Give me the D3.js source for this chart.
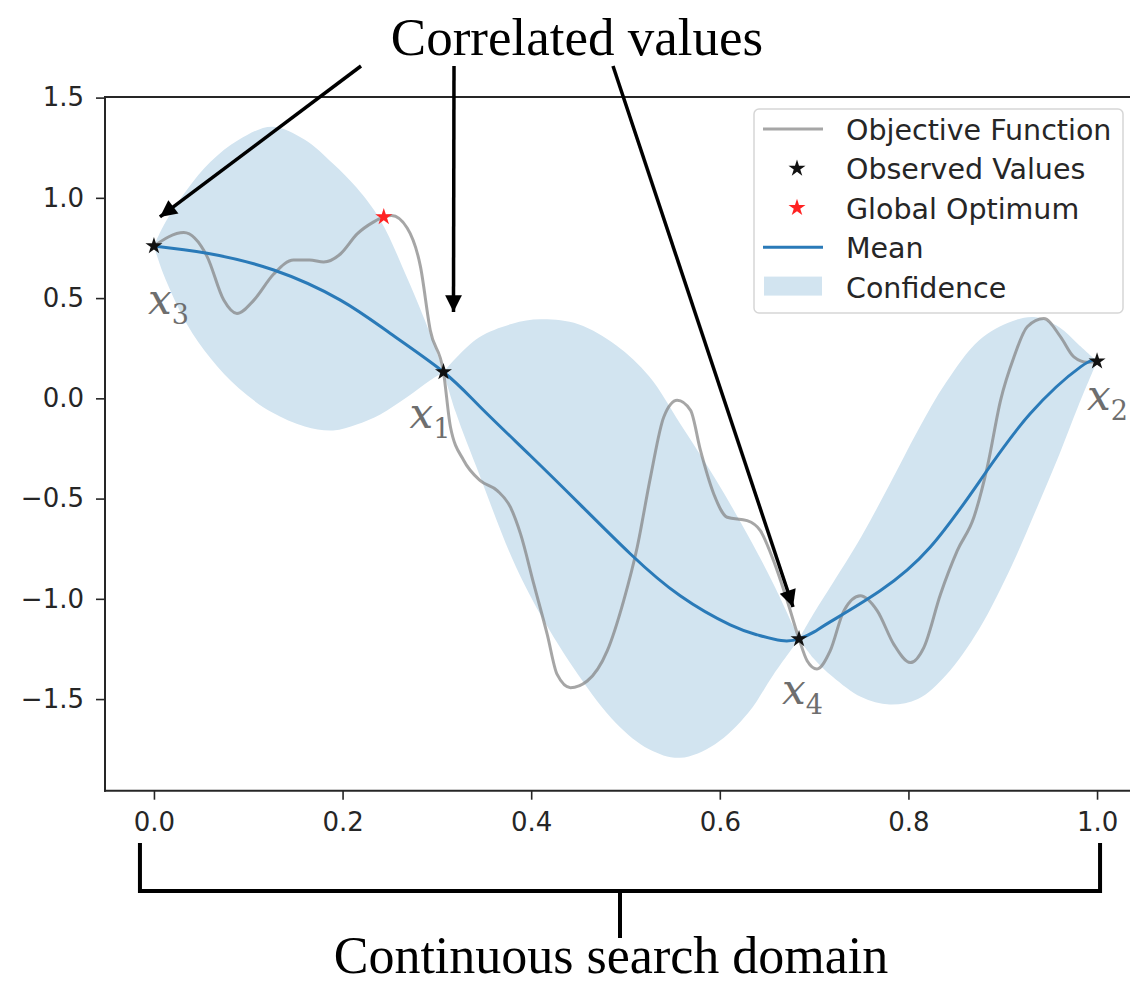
<!DOCTYPE html>
<html>
<head>
<meta charset="utf-8">
<script src="https://cdn.jsdelivr.net/npm/d3@7"></script>
<style>
  html, body { margin: 0; padding: 0; background: #ffffff; }
  svg { display: block; }
</style>
</head>
<body>
<svg id="chart" width="1130" height="985"></svg>
<script>
// ---- data ---------------------------------------------------------------
// Objective function f(x) on the search domain
const objectiveX = [0.0, 0.0316, 0.0564, 0.074, 0.088, 0.106, 0.127, 0.148, 0.165, 0.18,
  0.1977, 0.2155, 0.233, 0.2437, 0.252, 0.2685, 0.2826, 0.293, 0.307, 0.3144,
  0.3285, 0.346, 0.364, 0.378, 0.3887, 0.4028, 0.417, 0.4275, 0.4417, 0.4594,
  0.4806, 0.498, 0.5124, 0.5265, 0.5406, 0.5548, 0.569, 0.5795, 0.5936, 0.6078,
  0.629, 0.643, 0.657, 0.6715, 0.684, 0.6927, 0.703, 0.717, 0.7315, 0.749,
  0.767, 0.7845, 0.802, 0.8163, 0.834, 0.8518, 0.8694, 0.8836, 0.8977, 0.912,
  0.926, 0.9436, 0.9613, 0.9754, 0.9896, 1.0];
const objectiveY = [0.76, 0.827, 0.707, 0.49, 0.423, 0.49, 0.62, 0.69, 0.69, 0.68,
  0.72, 0.82, 0.88, 0.905, 0.912, 0.85, 0.657, 0.34, 0.1315, -0.143,
  -0.31, -0.41, -0.46, -0.543, -0.676, -0.927, -1.177, -1.377, -1.443, -1.41,
  -1.26, -1.01, -0.743, -0.393, -0.093, -0.01, -0.06, -0.26, -0.477, -0.593,
  -0.61, -0.66, -0.81, -1.01, -1.2, -1.31, -1.35, -1.26, -1.06, -0.985,
  -1.06, -1.227, -1.318, -1.243, -0.977, -0.76, -0.593, -0.343, -0.01, 0.207,
  0.357, 0.398, 0.307, 0.207, 0.18, 0.185];

// Posterior mean of the surrogate
const meanX = [0.0, 0.0564, 0.127, 0.1977, 0.2507, 0.307, 0.346, 0.399, 0.452, 0.505,
  0.558, 0.611, 0.64, 0.665, 0.684, 0.70, 0.717, 0.77, 0.823, 0.876, 0.929, 0.9825, 1.0];
const meanY = [0.76, 0.7235, 0.64, 0.49, 0.3235, 0.1315, -0.043, -0.285, -0.53, -0.775,
  -0.985, -1.13, -1.18, -1.208, -1.2, -1.165, -1.115, -0.96, -0.743, -0.41, -0.077, 0.157, 0.185];

// Confidence band (lower / upper bound)
const bandX = [0.0, 0.01, 0.035, 0.06, 0.09, 0.125, 0.16, 0.19, 0.215, 0.24, 0.2685, 0.293, 0.307,
  0.32, 0.345, 0.38, 0.41, 0.45, 0.49, 0.525, 0.558, 0.595, 0.63, 0.657, 0.684,
  0.70, 0.72, 0.75, 0.78, 0.81, 0.84, 0.875, 0.91, 0.935, 0.96, 0.98, 1.0];
const bandLower = [0.76, 0.62, 0.37, 0.2, 0.05, -0.07, -0.14, -0.16, -0.13, -0.08, 0.0065, 0.09, 0.1315,
  -0.07, -0.38, -0.8, -1.08, -1.38, -1.62, -1.75, -1.793, -1.725, -1.57, -1.377, -1.2,
  -1.3, -1.39, -1.49, -1.527, -1.50, -1.38, -1.15, -0.83, -0.56, -0.28, -0.04, 0.185];
const bandUpper = [0.76, 0.86, 1.04, 1.18, 1.29, 1.355, 1.29, 1.17, 1.05, 0.89, 0.6, 0.32, 0.1315,
  0.2, 0.305, 0.372, 0.394, 0.37, 0.265, 0.11, -0.127, -0.40, -0.685, -0.927, -1.2,
  -1.07, -0.92, -0.69, -0.43, -0.16, 0.08, 0.29, 0.385, 0.405, 0.355, 0.27, 0.185];

// Evaluated points and the global optimum
const observedX = [0.0, 0.307, 0.684, 1.0];
const observedY = [0.76, 0.1315, -1.2, 0.185];
const observedIndex = ["3", "1", "4", "2"];
const optimumX = [0.2437];
const optimumY = [0.905];

const xTicks = [0.0, 0.2, 0.4, 0.6, 0.8, 1.0];
const yTicks = [-1.5, -1.0, -0.5, 0.0, 0.5, 1.0, 1.5];
const legendLabels = ["Objective Function", "Observed Values", "Global Optimum", "Mean", "Confidence"];
const titleText = "Correlated values";
const domainText = "Continuous search domain";

// ---- layout -------------------------------------------------------------
const W = 1130, H = 985;
const plot = { left: 105, right: 1146, top: 97, bottom: 790.7 };

const svg = d3.select("#chart");
svg.append("rect").attr("width", W).attr("height", H).attr("fill", "#ffffff");

const x = d3.scaleLinear().domain([-0.0519, 1.0519]).range([plot.left, plot.right]);
const y = d3.scaleLinear().domain([-1.957, 1.503]).range([plot.bottom, plot.top]);

const BLUE = "#2a7ab8";
const BAND = "rgb(210,228,240)";
const GRAY = "#808080";
const AXIS = "#262626";

const defs = svg.append("defs");
defs.append("clipPath").attr("id", "plotClip")
  .append("rect")
  .attr("x", plot.left).attr("y", plot.top)
  .attr("width", plot.right - plot.left).attr("height", plot.bottom - plot.top);

const g = svg.append("g").attr("clip-path", "url(#plotClip)");

// confidence band: one closed lobe between each pair of pinch points
const bandRows = bandX.map((v, i) => ({ x: v, lo: bandLower[i], hi: bandUpper[i] }));
const lobes = [];
let cur = [];
bandRows.forEach((r, i) => {
  cur.push(r);
  if (i > 0 && r.lo === r.hi) { lobes.push(cur); cur = [r]; }
});
const area = d3.area()
  .x(d => x(d.x)).y0(d => y(d.lo)).y1(d => y(d.hi))
  .curve(d3.curveCatmullRom.alpha(0.5));
g.selectAll("path.band").data(lobes).join("path")
  .attr("class", "band")
  .attr("d", area)
  .attr("fill", BAND);

// objective function
const objPts = objectiveX.map((v, i) => [v, objectiveY[i]]);
const objLine = d3.line().x(d => x(d[0])).y(d => y(d[1])).curve(d3.curveMonotoneX);
g.append("path")
  .attr("d", objLine(objPts))
  .attr("fill", "none")
  .attr("stroke", GRAY)
  .attr("stroke-opacity", 0.7)
  .attr("stroke-width", 3);

// posterior mean
const meanPts = meanX.map((v, i) => [v, meanY[i]]);
const meanLine = d3.line().x(d => x(d[0])).y(d => y(d[1])).curve(d3.curveNatural);
g.append("path")
  .attr("d", meanLine(meanPts))
  .attr("fill", "none")
  .attr("stroke", BLUE)
  .attr("stroke-width", 3);

// stars
const star = d3.symbol().type(d3.symbolStar).size(90);
svg.selectAll("path.obs").data(observedX).join("path")
  .attr("class", "obs")
  .attr("d", star)
  .attr("transform", (d, i) => `translate(${x(d)},${y(observedY[i])})`)
  .attr("fill", "#111111");
svg.selectAll("path.opt").data(optimumX).join("path")
  .attr("class", "opt")
  .attr("d", star)
  .attr("transform", (d, i) => `translate(${x(d)},${y(optimumY[i])})`)
  .attr("fill", "#ff2222");

// axes
const spines = svg.append("g").attr("stroke", AXIS).attr("stroke-width", 2).attr("fill", "none");
spines.append("line").attr("x1", plot.left).attr("x2", plot.left).attr("y1", plot.top - 1).attr("y2", plot.bottom + 1);
spines.append("line").attr("x1", plot.left - 1).attr("x2", plot.right).attr("y1", plot.bottom).attr("y2", plot.bottom);
spines.append("line").attr("x1", plot.left - 1).attr("x2", plot.right).attr("y1", plot.top).attr("y2", plot.top);

const xAxis = d3.axisBottom(x).tickValues(xTicks).tickFormat(d3.format(".1f")).tickSize(9).tickPadding(13);
const xg = svg.append("g").attr("transform", `translate(0,${plot.bottom})`).call(xAxis);
xg.select(".domain").remove();
xg.selectAll(".tick line").attr("stroke", AXIS).attr("stroke-width", 1.6);
xg.selectAll(".tick text").attr("fill", AXIS)
  .style("font-family", "'DejaVu Sans', sans-serif").style("font-size", "26px");

const yAxis = d3.axisLeft(y).tickValues(yTicks)
  .tickFormat(d => d3.format(".1f")(d).replace("-", "\u2212"))
  .tickSize(9).tickPadding(12);
const yg = svg.append("g").attr("transform", `translate(${plot.left},0)`).call(yAxis);
yg.select(".domain").remove();
yg.selectAll(".tick line").attr("stroke", AXIS).attr("stroke-width", 1.6);
yg.selectAll(".tick text").attr("fill", AXIS)
  .style("font-family", "'DejaVu Sans', sans-serif").style("font-size", "26px");

// point labels x_i
const labelOffsets = { "3": [-6, 68], "1": [-34, 56], "4": [-17, 65], "2": [-10, 49] };
const lbl = svg.selectAll("text.xlabel").data(observedX).join("text")
  .attr("class", "xlabel")
  .attr("x", (d, i) => x(d) + labelOffsets[observedIndex[i]][0])
  .attr("y", (d, i) => y(observedY[i]) + labelOffsets[observedIndex[i]][1])
  .attr("fill", "#6e6e6e")
  .style("font-family", "'DejaVu Serif', serif");
lbl.append("tspan").text("x").style("font-style", "italic").style("font-size", "42px");
lbl.append("tspan").text((d, i) => observedIndex[i]).attr("dy", 10)
  .style("font-size", "27px");

// legend
const lg = svg.append("g").attr("transform", "translate(754,109)");
lg.append("rect").attr("width", 369).attr("height", 204).attr("rx", 5)
  .attr("fill", "#ffffff").attr("fill-opacity", 0.85)
  .attr("stroke", "#d6d6d6").attr("stroke-width", 1.5);
const rowY = i => 20 + i * 39.4;
legendLabels.forEach((t, i) => {
  const cy = rowY(i);
  if (i === 0) {
    lg.append("line").attr("x1", 9).attr("x2", 69).attr("y1", cy).attr("y2", cy)
      .attr("stroke", GRAY).attr("stroke-opacity", 0.7).attr("stroke-width", 3);
  } else if (i === 1 || i === 2) {
    lg.append("path").attr("d", star).attr("transform", `translate(43,${cy})`)
      .attr("fill", i === 1 ? "#111111" : "#ff2222");
  } else if (i === 3) {
    lg.append("line").attr("x1", 9).attr("x2", 69).attr("y1", cy).attr("y2", cy)
      .attr("stroke", BLUE).attr("stroke-width", 3);
  } else {
    lg.append("rect").attr("x", 10).attr("y", cy - 10).attr("width", 58).attr("height", 19)
      .attr("fill", BAND);
  }
  lg.append("text").attr("x", 92).attr("y", cy + 11).text(t)
    .attr("fill", AXIS)
    .style("font-family", "'DejaVu Sans', sans-serif").style("font-size", "28.5px");
});

// annotation arrows
defs.append("marker").attr("id", "head").attr("viewBox", "0 0 10 10")
  .attr("refX", 10).attr("refY", 5).attr("markerWidth", 5.5).attr("markerHeight", 4.8)
  .attr("markerUnits", "strokeWidth").attr("orient", "auto")
  .append("path").attr("d", "M0,0 L10,5 L0,10 Z").attr("fill", "#000");
const arrowTargets = [
  { from: [361, 66], target: 0, off: [6, -29] },
  { from: [454, 66], target: 1, off: [10, -60] },
  { from: [613, 66], target: 2, off: [-6, -32] }
];
arrowTargets.forEach(a => {
  svg.append("line")
    .attr("x1", a.from[0]).attr("y1", a.from[1])
    .attr("x2", x(observedX[a.target]) + a.off[0])
    .attr("y2", y(observedY[a.target]) + a.off[1])
    .attr("stroke", "#000").attr("stroke-width", 3.5)
    .attr("marker-end", "url(#head)");
});

svg.append("text").attr("x", 577).attr("y", 55).attr("text-anchor", "middle")
  .text(titleText).attr("fill", "#000")
  .style("font-family", "'Liberation Serif', 'Times New Roman', serif").style("font-size", "53px");

// bracket under the x axis marking the search domain
const bx0 = x(0) - 14, bx1 = x(1) + 3, bTop = 843, bBar = 891;
const bmid = (bx0 + bx1) / 2;
svg.append("path")
  .attr("d", `M${bx0},${bTop} V${bBar} H${bx1} V${bTop} M${bmid},${bBar} V938`)
  .attr("fill", "none").attr("stroke", "#000").attr("stroke-width", 4);
svg.append("text").attr("x", 611).attr("y", 973).attr("text-anchor", "middle")
  .text(domainText).attr("fill", "#000")
  .style("font-family", "'Liberation Serif', 'Times New Roman', serif").style("font-size", "52px");
</script>
</body>
</html>
